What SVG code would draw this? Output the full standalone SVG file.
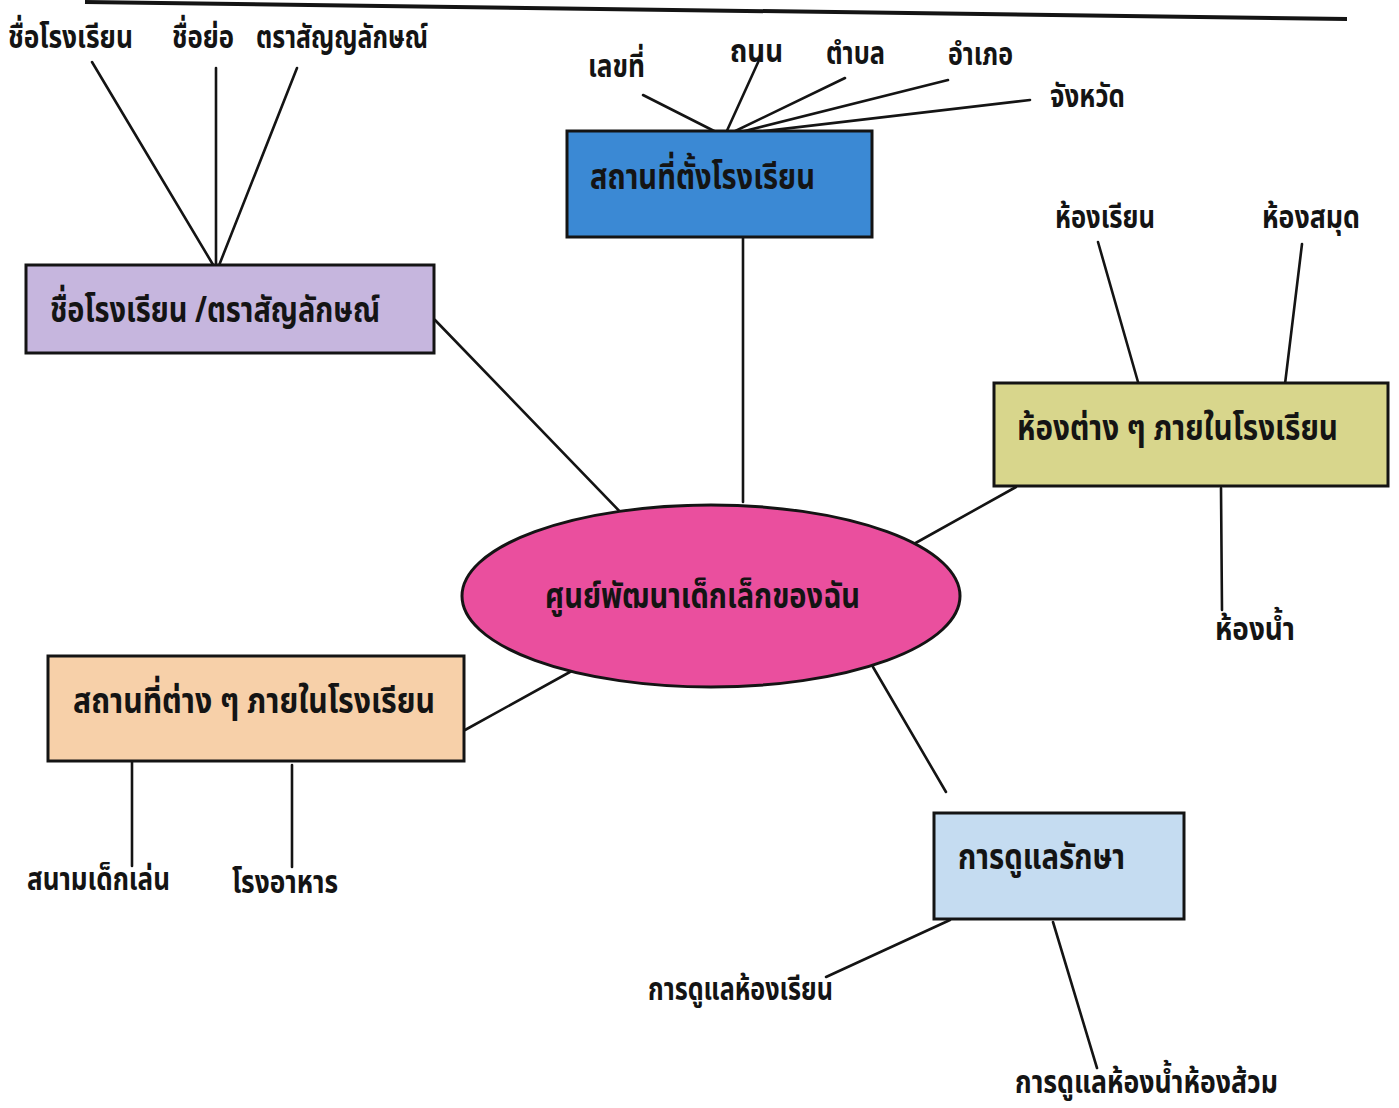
<svg xmlns="http://www.w3.org/2000/svg" width="1399" height="1108" viewBox="0 0 1399 1108">
<style>
.bg{fill:#ffffff}
.box{stroke:#141414;stroke-width:3}
.ln{stroke:#141414;stroke-width:2.6;fill:none;stroke-linecap:round}
text{font-family:"Noto Sans Thai","Loma","Garuda","Liberation Sans",sans-serif;fill:#141414;font-weight:bold}
.lbl{font-size:32px}
.nt{font-size:36px}
</style>
<rect class="bg" x="0" y="0" width="1399" height="1108"/>
<line x1="85" y1="2" x2="1347" y2="19" stroke="#141414" stroke-width="4"/>

<g id="connectors">
<line class="ln" x1="92" y1="62" x2="215" y2="268"/>
<line class="ln" x1="216" y1="68" x2="216" y2="268"/>
<line class="ln" x1="297" y1="68" x2="218" y2="268"/>
<line class="ln" x1="435" y1="320" x2="628" y2="520"/>
<line class="ln" x1="643" y1="95" x2="722" y2="135"/>
<line class="ln" x1="760" y1="58" x2="725" y2="135"/>
<line class="ln" x1="845" y1="78" x2="727" y2="135"/>
<line class="ln" x1="948" y1="80" x2="729" y2="135"/>
<line class="ln" x1="1030" y1="100" x2="731" y2="135"/>
<line class="ln" x1="743" y1="238" x2="743" y2="502"/>
<line class="ln" x1="1098" y1="242" x2="1138" y2="382"/>
<line class="ln" x1="1302" y1="244" x2="1285" y2="384"/>
<line class="ln" x1="1221" y1="488" x2="1222" y2="610"/>
<line class="ln" x1="1016" y1="487" x2="912" y2="545"/>
<line class="ln" x1="588" y1="662" x2="465" y2="730"/>
<line class="ln" x1="873" y1="667" x2="946" y2="792"/>
<line class="ln" x1="950" y1="920" x2="826" y2="977"/>
<line class="ln" x1="1053" y1="922" x2="1097" y2="1068"/>
<line class="ln" x1="132" y1="762" x2="132" y2="866"/>
<line class="ln" x1="292" y1="765" x2="292" y2="867"/>
</g>

<g id="labels">
<text class="lbl" x="8" y="48" textLength="125" lengthAdjust="spacingAndGlyphs">ชื่อโรงเรียน</text>
<text class="lbl" x="172" y="48" textLength="62" lengthAdjust="spacingAndGlyphs">ชื่อย่อ</text>
<text class="lbl" x="256" y="48" textLength="172" lengthAdjust="spacingAndGlyphs">ตราสัญญลักษณ์</text>
<text class="lbl" x="588" y="77" textLength="57" lengthAdjust="spacingAndGlyphs">เลขที่</text>
<text class="lbl" x="730" y="62" textLength="53" lengthAdjust="spacingAndGlyphs">ถนน</text>
<text class="lbl" x="826" y="64" textLength="59" lengthAdjust="spacingAndGlyphs">ตำบล</text>
<text class="lbl" x="948" y="65" textLength="65" lengthAdjust="spacingAndGlyphs">อำเภอ</text>
<text class="lbl" x="1050" y="107" textLength="75" lengthAdjust="spacingAndGlyphs">จังหวัด</text>
<text class="lbl" x="1055" y="228" textLength="100" lengthAdjust="spacingAndGlyphs">ห้องเรียน</text>
<text class="lbl" x="1262" y="228" font-size="30" textLength="98" lengthAdjust="spacingAndGlyphs">ห้องสมุด</text>
<text class="lbl" x="1215" y="640" textLength="80" lengthAdjust="spacingAndGlyphs">ห้องน้ำ</text>
<text class="lbl" x="27" y="890" textLength="143" lengthAdjust="spacingAndGlyphs">สนามเด็กเล่น</text>
<text class="lbl" x="232" y="893" textLength="106" lengthAdjust="spacingAndGlyphs">โรงอาหาร</text>
<text class="lbl" x="648" y="1000" textLength="185" lengthAdjust="spacingAndGlyphs">การดูแลห้องเรียน</text>
<text class="lbl" x="1015" y="1093" font-size="30" textLength="263" lengthAdjust="spacingAndGlyphs">การดูแลห้องน้ำห้องส้วม</text>
</g>

<g id="node-name">
<rect class="box" x="26" y="265" width="408" height="88" fill="#c6b6de"/>
<text class="nt" x="50" y="322" textLength="330" lengthAdjust="spacingAndGlyphs">ชื่อโรงเรียน /ตราสัญลักษณ์</text>
</g>
<g id="node-location">
<rect class="box" x="567" y="131" width="305" height="106" fill="#3b89d4"/>
<text class="nt" x="590" y="189" textLength="225" lengthAdjust="spacingAndGlyphs">สถานที่ตั้งโรงเรียน</text>
</g>
<g id="node-rooms">
<rect class="box" x="994" y="383" width="394" height="103" fill="#d8d68c"/>
<text class="nt" x="1017" y="440" font-size="30" textLength="321" lengthAdjust="spacingAndGlyphs">ห้องต่าง ๆ ภายในโรงเรียน</text>
</g>
<g id="node-center">
<ellipse class="box" cx="711" cy="596" rx="249" ry="91" fill="#ea4f9e"/>
<text class="nt" x="545" y="608" textLength="315" lengthAdjust="spacingAndGlyphs">ศูนย์พัฒนาเด็กเล็กของฉัน</text>
</g>
<g id="node-places">
<rect class="box" x="48" y="656" width="416" height="105" fill="#f7d0a9"/>
<text class="nt" x="73" y="713" textLength="362" lengthAdjust="spacingAndGlyphs">สถานที่ต่าง ๆ ภายในโรงเรียน</text>
</g>
<g id="node-care">
<rect class="box" x="934" y="813" width="250" height="106" fill="#c5dcf1"/>
<text class="nt" x="958" y="869" textLength="167" lengthAdjust="spacingAndGlyphs">การดูแลรักษา</text>
</g>
</svg>
